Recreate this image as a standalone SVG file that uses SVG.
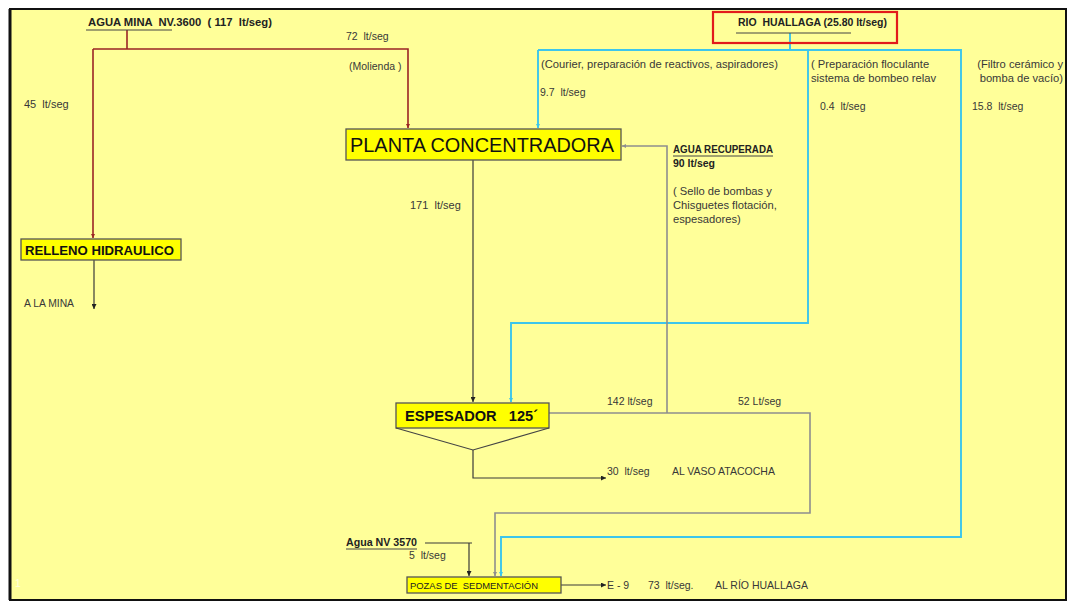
<svg xmlns="http://www.w3.org/2000/svg" width="1070" height="603" viewBox="0 0 1070 603">
<style>
text{font-family:"Liberation Sans",Arial,sans-serif;fill:#383838;font-size:10.5px;white-space:pre}
.b{font-weight:bold;fill:#222}
.l{font-size:11.2px}
.node{fill:#FFFF00;stroke:#555;stroke-width:1.3}
.red{fill:none;stroke:#9B2525;stroke-width:1.6}
.blue{fill:none;stroke:#3CC6EC;stroke-width:1.9}
.gray{fill:none;stroke:#8E8E8E;stroke-width:1.6}
.blk{fill:none;stroke:#3A3A3A;stroke-width:1.2}
.ul{stroke:#444;stroke-width:1}
</style>
<defs>
<marker id="ar" viewBox="0 0 10 10" refX="10" refY="5" markerWidth="4" markerHeight="4" orient="auto" markerUnits="userSpaceOnUse"><path d="M0,0L10,5L0,10z" fill="#9B2525"/></marker>
<marker id="ab" viewBox="0 0 10 10" refX="10" refY="5" markerWidth="4" markerHeight="4" orient="auto" markerUnits="userSpaceOnUse"><path d="M0,0L10,5L0,10z" fill="#3CC6EC"/></marker>
<marker id="ag" viewBox="0 0 10 10" refX="10" refY="5" markerWidth="4" markerHeight="4" orient="auto" markerUnits="userSpaceOnUse"><path d="M0,0L10,5L0,10z" fill="#8E8E8E"/></marker>
<marker id="ak" viewBox="0 0 10 10" refX="10" refY="5" markerWidth="5" markerHeight="5" orient="auto" markerUnits="userSpaceOnUse"><path d="M0,0L10,5L0,10z" fill="#222"/></marker>
</defs>
<rect x="0" y="0" width="1070" height="603" fill="#FFFFFF"/>
<rect x="10" y="9" width="1056" height="591" fill="#FFFF99" stroke="#111" stroke-width="2"/>
<line x1="10" y1="9" x2="10" y2="600" stroke="#111" stroke-width="3"/>

<g id="connectors">
<path class="red" d="M127,30V49"/>
<path class="red" d="M93,49H408V128" marker-end="url(#ar)"/>
<path class="red" d="M93,49V238" marker-end="url(#ar)"/>
<path class="blue" d="M790,33V50"/>
<path class="blue" d="M538,50H961V537H501V576" marker-end="url(#ab)"/>
<path class="blue" d="M538,50V128" marker-end="url(#ab)"/>
<path class="blue" d="M808,50V323H511V402" marker-end="url(#ab)"/>
<path class="gray" d="M549,413H810V513H495V576" marker-end="url(#ag)"/>
<path class="gray" d="M667,413V146H622" marker-end="url(#ag)"/>
<path class="blk" d="M473,160V402" marker-end="url(#ak)"/>
<path class="blk" d="M473,450V478H606" marker-end="url(#ak)"/>
<path class="blk" d="M94,260V309" marker-end="url(#ak)"/>
<path class="blk" d="M425,543H472"/>
<path class="blk" d="M469,543V576" marker-end="url(#ak)"/>
<path class="blk" d="M561,585H606" marker-end="url(#ak)"/>
</g>

<g id="agua-mina">
<text class="b" x="88" y="26" style="font-size:11px" textLength="184" lengthAdjust="spacingAndGlyphs">AGUA MINA  NV.3600  ( 117  lt/seg)</text>
<line class="ul" x1="86" y1="30" x2="172" y2="30"/>
</g>

<g id="rio-huallaga">
<rect x="713" y="12" width="184" height="31" fill="none" stroke="#E21B1B" stroke-width="2.2"/>
<text class="b" x="738" y="26" textLength="149" lengthAdjust="spacingAndGlyphs">RIO  HUALLAGA (25.80 lt/seg)</text>
<line class="ul" x1="736" y1="33" x2="851" y2="33"/>
</g>

<g id="planta-concentradora">
<rect class="node" x="346" y="129" width="275" height="31"/>
<text x="350" y="152" style="font-size:20px;fill:#111" textLength="264" lengthAdjust="spacingAndGlyphs">PLANTA CONCENTRADORA</text>
</g>

<g id="relleno-hidraulico">
<rect class="node" x="21" y="239" width="160" height="21"/>
<text class="b" x="25" y="255" style="font-size:13px;fill:#111" textLength="149" lengthAdjust="spacingAndGlyphs">RELLENO HIDRAULICO</text>
</g>

<g id="espesador">
<rect class="node" x="396" y="403" width="153" height="25"/>
<polyline points="396,428 473,450 549,428" fill="none" stroke="#444" stroke-width="1.2"/>
<text class="b" x="405" y="421" style="font-size:15px;fill:#111" textLength="133" lengthAdjust="spacingAndGlyphs">ESPESADOR   125´</text>
</g>

<g id="pozas">
<rect class="node" x="407" y="577" width="154" height="16"/>
<text x="410" y="589" style="font-size:9px;fill:#222" textLength="128" lengthAdjust="spacingAndGlyphs">POZAS DE  SEDMENTACIÓN</text>
</g>

<g id="agua-nv3570">
<text class="b" x="346" y="546" textLength="71" lengthAdjust="spacingAndGlyphs">Agua NV 3570</text>
<line class="ul" x1="346" y1="549" x2="417" y2="549"/>
</g>

<g id="agua-recuperada">
<text class="b" x="673" y="153" textLength="100" lengthAdjust="spacingAndGlyphs">AGUA RECUPERADA</text>
<line class="ul" x1="673" y1="156" x2="773" y2="156"/>
<text class="b" x="673" y="167">90 lt/seg</text>
<text x="673" y="195" class="l">( Sello de bombas y</text>
<text x="673" y="209" class="l">Chisguetes flotación,</text>
<text x="673" y="223" class="l">espesadores)</text>
</g>

<g id="labels">
<text x="346" y="40">72  lt/seg</text>
<text x="349" y="70">(Molienda )</text>
<text x="24" y="108" style="font-size:11px">45  lt/seg</text>
<text x="541" y="68" class="l">(Courier, preparación de reactivos, aspiradores)</text>
<text x="540" y="96">9.7  lt/seg</text>
<text x="811" y="68" class="l">( Preparación floculante</text>
<text x="811" y="82" class="l">sistema de bombeo relav</text>
<text x="820" y="110">0.4  lt/seg</text>
<text x="1063" y="68" text-anchor="end" class="l">(Filtro cerámico y</text>
<text x="1063" y="82" text-anchor="end" class="l">bomba de vacío)</text>
<text x="972" y="110">15.8  lt/seg</text>
<text x="410" y="209" style="font-size:11px">171  lt/seg</text>
<text x="24" y="307" style="font-size:10px" textLength="50" lengthAdjust="spacingAndGlyphs">A LA MINA</text>
<text x="607" y="405">142 lt/seg</text>
<text x="738" y="405">52 Lt/seg</text>
<text x="607" y="475">30  lt/seg</text>
<text x="672" y="475">AL VASO ATACOCHA</text>
<text x="409" y="559">5  lt/seg</text>
<text x="607" y="589">E - 9</text>
<text x="648" y="589">73  lt/seg.</text>
<text x="715" y="589">AL RÍO HUALLAGA</text>
<text x="15" y="587" style="fill:#FFFFDD">1</text>
</g>
</svg>
